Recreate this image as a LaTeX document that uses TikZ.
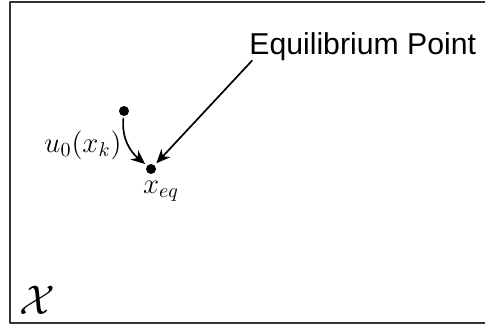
\documentclass[tikz,border=0pt]{standalone}
\usepackage{fontspec}
\newfontfamily\labelfont{Liberation Sans}
\usetikzlibrary{arrows.meta}
\begin{document}
\begin{tikzpicture}[x=0.5pt,y=-0.5pt,line cap=round,line join=round,>={Stealth[length=7pt,width=6pt,inset=2.2pt]}]
  \tikzset{dot/.style={circle,fill=black,inner sep=0pt,minimum size=5pt,outer sep=1.4pt}}
  \useasboundingbox (0,0) rectangle (485,327);
  \draw[line width=1pt,color=black!80] (485,1.5) -- (9.5,1.5) -- (9.5,322.5) -- (485,322.5);
  \node[dot] (xstart) at (124,111) {};
  \node[dot] (xeq) at (151,169) {};
  \node[anchor=base west,inner sep=0pt,font=\labelfont\fontsize{15.1}{17}\selectfont] (eqlabel) at (249,54) {Equilibrium Point};
  \node[inner sep=0pt,font=\fontsize{13.8}{16}\selectfont] (ulabel) at (83,145) {$u_0(x_k)$};
  \node[inner sep=0pt,font=\fontsize{14}{16}\selectfont] (eqname) at (161,191) {$x_{eq}$};
  \node[inner sep=0pt,font=\fontsize{21}{24}\selectfont] (space) at (37,300) {$\mathcal{X}$};
  \draw[line width=0.85pt,->] ([xshift=1.5pt]eqlabel.south west) -- (xeq);
  \draw[line width=0.85pt,->] (xstart) to[out=-95,in=140] (xeq);
\end{tikzpicture}
\end{document}
